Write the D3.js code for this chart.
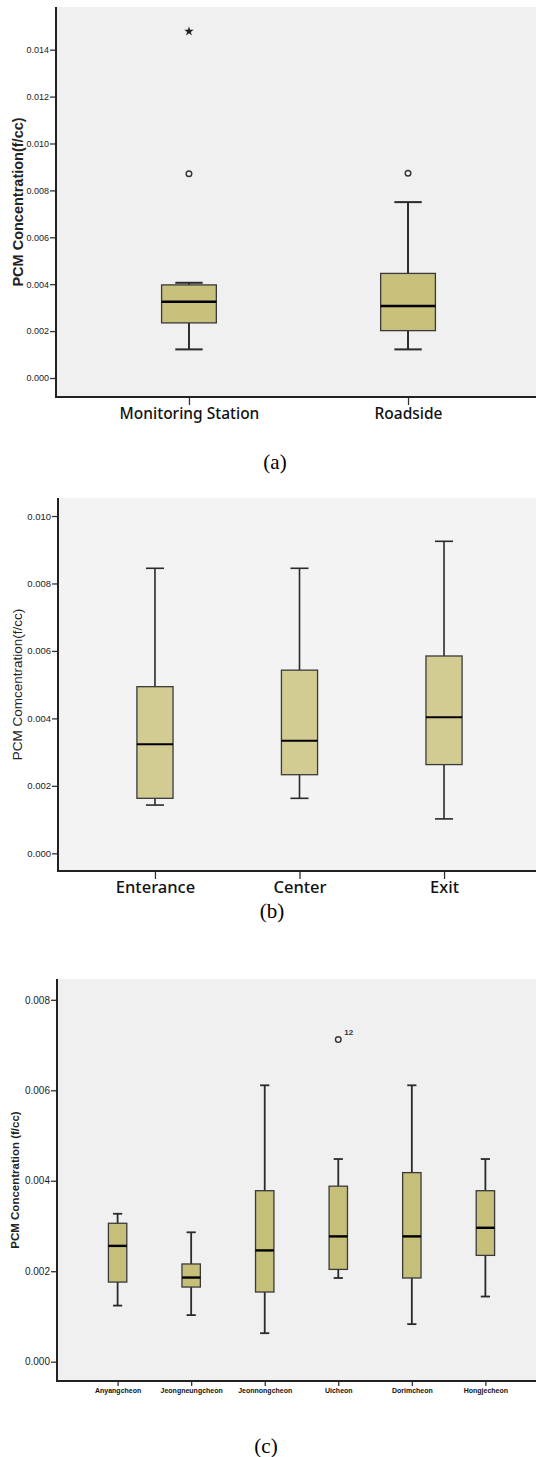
<!DOCTYPE html>
<html>
<head>
<meta charset="utf-8">
<script src="https://cdn.jsdelivr.net/npm/d3@7"></script>
<style>
	body { margin: 0; background: #fff; }
	svg { display: block; }
</style>
</head>
<body>
<svg id="chart" width="536" height="1457"></svg>
<script>
// panel (a)
var catsA = ["Monitoring Station", "Roadside"];
var statsA = [
	{min: 0.00122, q1: 0.00235, med: 0.00325, q3: 0.00397, max: 0.00406},
	{min: 0.00122, q1: 0.00202, med: 0.00307, q3: 0.00446, max: 0.00750}
];
var outliersA = [
	{cat: "Monitoring Station", value: 0.00871, type: "circle"},
	{cat: "Monitoring Station", value: 0.01478, type: "star"},
	{cat: "Roadside", value: 0.00873, type: "circle"}
];
var ticksA = [0, 0.002, 0.004, 0.006, 0.008, 0.010, 0.012, 0.014];

// panel (b)
var catsB = ["Enterance", "Center", "Exit"];
var statsB = [
	{min: 0.00143, q1: 0.00163, med: 0.00323, q3: 0.00494, max: 0.00845},
	{min: 0.00163, q1: 0.00233, med: 0.00334, q3: 0.00543, max: 0.00845},
	{min: 0.00102, q1: 0.00263, med: 0.00403, q3: 0.00585, max: 0.00925}
];
var outliersB = [];
var ticksB = [0, 0.002, 0.004, 0.006, 0.008, 0.010];

// panel (c)
var catsC = ["Anyangcheon", "Jeongneungcheon", "Jeonnongcheon", "Uicheon", "Dorimcheon", "Hongjecheon"];
var statsC = [
	{min: 0.00124, q1: 0.00176, med: 0.00256, q3: 0.00306, max: 0.00327},
	{min: 0.00103, q1: 0.00165, med: 0.00186, q3: 0.00216, max: 0.00286},
	{min: 0.00063, q1: 0.00154, med: 0.00246, q3: 0.00378, max: 0.00611},
	{min: 0.00185, q1: 0.00204, med: 0.00277, q3: 0.00388, max: 0.00448},
	{min: 0.00083, q1: 0.00185, med: 0.00277, q3: 0.00418, max: 0.00611},
	{min: 0.00144, q1: 0.00235, med: 0.00296, q3: 0.00378, max: 0.00448}
];
var outliersC = [
	{cat: "Uicheon", value: 0.00712, type: "circle", label: "12"}
];
var ticksC = [0, 0.002, 0.004, 0.006, 0.008];

var svg = d3.select("#chart");

function drawPanel(o){
	var g = svg.append("g");

	var y = d3.scaleLinear().domain(o.yDomain).range([o.bottom, o.top]);
	var x = d3.scalePoint().domain(o.cats).range([o.left, o.right]).padding(o.pad);
	var boxW = x.step() * 0.25, capW = boxW / 2;

	//Plot background
	g.append("rect")
		.attr("x", o.left)
		.attr("y", o.top)
		.attr("width", o.right - o.left)
		.attr("height", o.bottom - o.top)
		.attr("fill", o.bg);

	//Y axis
	var yAxis = g.append("g")
		.attr("transform", "translate(" + o.left + ",0)")
		.call(d3.axisLeft(y).tickValues(o.ticks).tickSize(6).tickPadding(1).tickFormat(d3.format(".3f")));
	yAxis.select(".domain").remove();
	yAxis.selectAll(".tick line").attr("stroke", "#333").attr("stroke-width", 1.3);
	yAxis.selectAll("text")
		.attr("fill", "#222")
		.style("font-family", "'Liberation Sans', Arial, sans-serif")
		.style("font-size", o.tickFont + "px");

	//X axis
	var xAxis = g.append("g")
		.attr("transform", "translate(0," + o.bottom + ")")
		.call(d3.axisBottom(x).tickSize(o.xTick).tickPadding(o.xPad));
	xAxis.select(".domain").remove();
	xAxis.selectAll(".tick line").attr("stroke", "#333").attr("stroke-width", 1.3);
	xAxis.selectAll("text")
		.attr("fill", "#111")
		.style("font-family", o.xFontFamily)
		.style("font-weight", o.xWeight)
		.style("font-size", o.xFont + "px");

	//Axis lines
	g.append("line")
		.attr("x1", o.left).attr("x2", o.left)
		.attr("y1", o.top).attr("y2", o.bottom + 1)
		.attr("stroke", "#222").attr("stroke-width", 2);
	g.append("line")
		.attr("x1", o.left).attr("x2", o.right)
		.attr("y1", o.bottom).attr("y2", o.bottom)
		.attr("stroke", "#222").attr("stroke-width", 2);

	//Y title
	g.append("text")
		.attr("transform", "translate(" + o.titleX + "," + ((o.top + o.bottom) / 2) + ") rotate(-90)")
		.attr("text-anchor", "middle")
		.attr("dy", "0.35em")
		.attr("fill", "#222")
		.style("font-family", "'Liberation Sans', Arial, sans-serif")
		.style("font-weight", o.titleWeight)
		.style("font-size", o.titleFont + "px")
		.text(o.title);

	//Boxes
	var boxes = g.selectAll(".box")
		.data(o.stats)
		.enter().append("g")
		.attr("class", "box");

	boxes.each(function(d, i){
		var b = d3.select(this), cx = x(o.cats[i]);

		//Whiskers
		[[d.q3, d.max], [d.q1, d.min]].forEach(function(w){
			b.append("line")
				.attr("x1", cx).attr("x2", cx)
				.attr("y1", y(w[0])).attr("y2", y(w[1]))
				.attr("stroke", "#2a2a2a").attr("stroke-width", o.whiskerW);
			b.append("line")
				.attr("x1", cx - capW / 2).attr("x2", cx + capW / 2)
				.attr("y1", y(w[1])).attr("y2", y(w[1]))
				.attr("stroke", "#2a2a2a").attr("stroke-width", o.whiskerW);
		});

		b.append("rect")
			.attr("x", cx - boxW / 2)
			.attr("y", y(d.q3))
			.attr("width", boxW)
			.attr("height", y(d.q1) - y(d.q3))
			.attr("fill", o.fill)
			.attr("stroke", "#3a3a3a")
			.attr("stroke-width", 1.3);

		b.append("line")
			.attr("x1", cx - boxW / 2).attr("x2", cx + boxW / 2)
			.attr("y1", y(d.med)).attr("y2", y(d.med))
			.attr("stroke", "#000").attr("stroke-width", o.medianW);
	});

	//Outliers
	o.outliers.forEach(function(p){
		var cx = x(p.cat), cy = y(p.value);
		if (p.type === "star"){
			g.append("path")
				.attr("transform", "translate(" + cx + "," + cy + ")")
				.attr("d", d3.symbol().type(d3.symbolStar).size(28)())
				.attr("fill", "#222");
		}else{
			g.append("circle")
				.attr("cx", cx).attr("cy", cy).attr("r", 2.8)
				.attr("fill", "none")
				.attr("stroke", "#333").attr("stroke-width", 1.4);
		}
		if (p.label){
			g.append("text")
				.attr("x", cx + 6).attr("y", cy - 5)
				.attr("fill", "#333")
				.style("font-family", "'Liberation Sans', Arial, sans-serif")
				.style("font-weight", "bold")
				.style("font-size", "8px")
				.text(p.label);
		}
	});

	//Caption
	svg.append("text")
		.attr("x", o.capX).attr("y", o.capY)
		.attr("text-anchor", "middle")
		.attr("fill", "#000")
		.style("font-family", "'Liberation Serif', 'Times New Roman', serif")
		.style("font-size", "21px")
		.text(o.caption);
}

drawPanel({
	cats: catsA, stats: statsA, outliers: outliersA, ticks: ticksA,
	yDomain: [-0.00081, 0.01582], top: 7, bottom: 397, left: 56, right: 541, pad: 0.607,
	bg: "#f0f0f0", fill: "#c8c17c", whiskerW: 2, medianW: 2.6,
	tickFont: 9, xTick: 8, xPad: 3, xFont: 15.5, xWeight: 500,
	xFontFamily: "'Noto Sans', 'Open Sans', sans-serif",
	title: "PCM Concentration(f/cc)", titleX: 18, titleFont: 14.5, titleWeight: "bold",
	caption: "(a)", capX: 275, capY: 469
});

drawPanel({
	cats: catsB, stats: statsB, outliers: outliersB, ticks: ticksB,
	yDomain: [-0.000525, 0.010534], top: 498, bottom: 871, left: 58, right: 541, pad: 0.671,
	bg: "#f3f3f3", fill: "#d2cc92", whiskerW: 1.6, medianW: 2,
	tickFont: 9.5, xTick: 8, xPad: 2, xFont: 16.5, xWeight: 500,
	xFontFamily: "'Noto Sans', 'Open Sans', sans-serif",
	title: "PCM Comcentration(f/cc)", titleX: 17, titleFont: 13.5, titleWeight: "normal",
	caption: "(b)", capX: 272, capY: 918
});

drawPanel({
	cats: catsC, stats: statsC, outliers: outliersC, ticks: ticksC,
	yDomain: [-0.000427, 0.00846], top: 979, bottom: 1381, left: 57, right: 546, pad: 0.824,
	bg: "#f0f0f0", fill: "#c6bf7a", whiskerW: 1.8, medianW: 2.4,
	tickFont: 10, xTick: 5, xPad: 2, xFont: 7, xWeight: "bold",
	xFontFamily: "'Liberation Sans', Arial, sans-serif",
	title: "PCM Concentration (f/cc)", titleX: 15, titleFont: 11.5, titleWeight: "bold",
	caption: "(c)", capX: 266, capY: 1453
});
</script>
</body>
</html>
